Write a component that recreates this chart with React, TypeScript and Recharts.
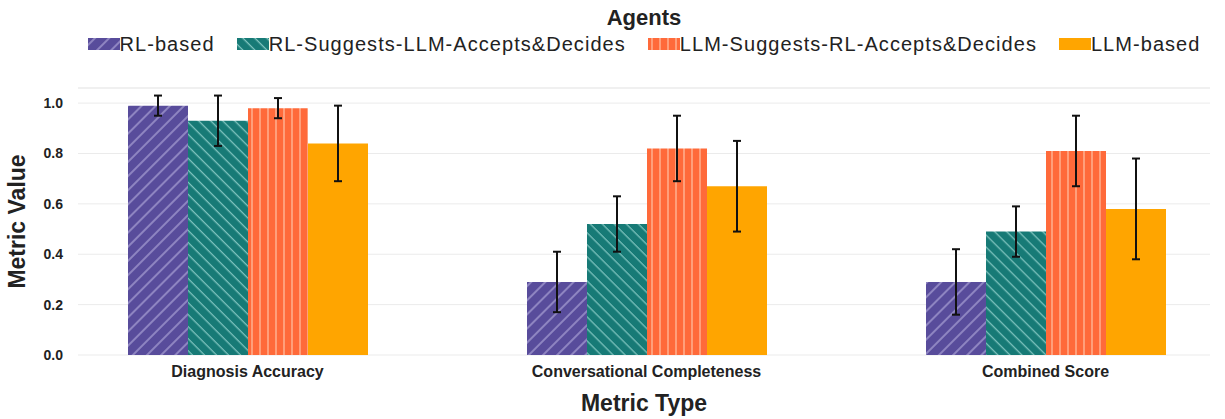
import {
  BarChart,
  Bar,
  XAxis,
  YAxis,
  CartesianGrid,
  Legend,
  ErrorBar,
  Label,
  ReferenceLine,
} from 'recharts';

const FONT = '"Liberation Sans", Arial, Helvetica, sans-serif';

const metrics = ['Diagnosis Accuracy', 'Conversational Completeness', 'Combined Score'];

const agents = [
  'RL-based',
  'RL-Suggests-LLM-Accepts&Decides',
  'LLM-Suggests-RL-Accepts&Decides',
  'LLM-based',
];

// mean and std per metric, one array per agent
const rlBased = [0.99, 0.29, 0.29];
const rlBasedErr = [0.04, 0.12, 0.13];
const rlSuggests = [0.93, 0.52, 0.49];
const rlSuggestsErr = [0.1, 0.11, 0.1];
const llmSuggests = [0.98, 0.82, 0.81];
const llmSuggestsErr = [0.04, 0.13, 0.14];
const llmBased = [0.84, 0.67, 0.58];
const llmBasedErr = [0.15, 0.18, 0.2];

const yTicks = [0, 0.2, 0.4, 0.6, 0.8, 1.0];
const Y_MAX = 1.06;

const series = [
  { key: 'rl', name: agents[0], fill: 'url(#hatch-rl)', values: rlBased, err: rlBasedErr },
  { key: 'rlSug', name: agents[1], fill: 'url(#hatch-rlsug)', values: rlSuggests, err: rlSuggestsErr },
  { key: 'llmSug', name: agents[2], fill: 'url(#hatch-llmsug)', values: llmSuggests, err: llmSuggestsErr },
  { key: 'llm', name: agents[3], fill: '#ffa500', values: llmBased, err: llmBasedErr },
];

const data = metrics.map((metric, i) => {
  const row: Record<string, string | number> = { metric };
  series.forEach((s) => {
    row[s.key] = s.values[i];
    row[`${s.key}Err`] = s.err[i];
  });
  return row;
});

const AgentLegend = () => (
  <div style={{ position: 'relative', width: 1132, height: 60, fontFamily: FONT, color: '#222' }}>
    <div
      style={{
        position: 'absolute',
        top: 5,
        left: 0,
        right: 0,
        textAlign: 'center',
        fontSize: 22,
        fontWeight: 700,
        lineHeight: '26px',
      }}
    >
      Agents
    </div>
    <div
      style={{
        position: 'absolute',
        top: 32,
        left: 0,
        right: 0,
        display: 'flex',
        justifyContent: 'center',
        alignItems: 'center',
        gap: 22,
        fontSize: 20,
        lineHeight: '24px',
        letterSpacing: 1.05,
      }}
    >
      {series.map((s) => (
        <div key={s.key} style={{ display: 'flex', alignItems: 'center' }}>
          <svg width={32} height={12} style={{ display: 'block' }}>
            <rect width={32} height={12} fill={s.fill} />
          </svg>
          <span>{s.name}</span>
        </div>
      ))}
    </div>
  </div>
);

export default function App() {
  return (
    <div style={{ position: 'absolute', left: 0, top: 0, width: 1225, height: 419, background: '#fff' }}>
      <BarChart
        width={1225}
        height={419}
        data={data}
        margin={{ top: 28, right: 15, bottom: 0, left: 0 }}
        barCategoryGap={80}
        barGap={0}
        style={{ fontFamily: FONT }}
      >
        <defs>
          <pattern id="hatch-rl" patternUnits="userSpaceOnUse" width={10} height={10} patternTransform="rotate(45)">
            <rect width={10} height={10} fill="#584c9b" />
            <line x1={5} y1={0} x2={5} y2={10} stroke="#c4bde8" strokeWidth={1} />
          </pattern>
          <pattern id="hatch-rlsug" patternUnits="userSpaceOnUse" width={8.5} height={8.5} patternTransform="rotate(-45)">
            <rect width={8.5} height={8.5} fill="#177a76" />
            <line x1={4} y1={0} x2={4} y2={8.5} stroke="#9bd8d2" strokeWidth={1} />
          </pattern>
          <pattern id="hatch-llmsug" patternUnits="userSpaceOnUse" width={8} height={8}>
            <rect width={8} height={8} fill="#ff6a3a" />
            <line x1={4} y1={0} x2={4} y2={8} stroke="#ffc3a6" strokeWidth={1.2} />
          </pattern>
        </defs>
        <CartesianGrid vertical={false} stroke="#ebebeb" />
        <ReferenceLine y={Y_MAX} stroke="#ebebeb" />
        <Legend
          verticalAlign="top"
          align="left"
          content={<AgentLegend />}
          wrapperStyle={{ top: 0, left: 78, width: 1132 }}
        />
        <XAxis
          dataKey="metric"
          axisLine={false}
          tickLine={false}
          tickMargin={5}
          interval={0}
          height={64}
          padding={{ left: -30, right: -35 }}
          tick={{ fontSize: 16, fontWeight: 700, fill: '#222' }}
        >
          <Label
            value="Metric Type"
            position="insideBottom"
            offset={8}
            style={{ fontSize: 23, fontWeight: 700, fill: '#222' }}
          />
        </XAxis>
        <YAxis
          domain={[0, Y_MAX]}
          ticks={yTicks}
          tickFormatter={(v) => Number(v).toFixed(1)}
          axisLine={false}
          tickLine={false}
          tickMargin={9}
          width={78}
          tick={{ fontSize: 14, fontWeight: 700, fill: '#222' }}
        >
          <Label
            value="Metric Value"
            angle={-90}
            position="insideLeft"
            offset={17}
            style={{ textAnchor: 'middle', fontSize: 23, fontWeight: 700, fill: '#222' }}
          />
        </YAxis>
        {series.map((s) => (
          <Bar key={s.key} dataKey={s.key} name={s.name} fill={s.fill} isAnimationActive={false}>
            <ErrorBar dataKey={`${s.key}Err`} width={4} strokeWidth={2} stroke="#111" />
          </Bar>
        ))}
      </BarChart>
    </div>
  );
}
